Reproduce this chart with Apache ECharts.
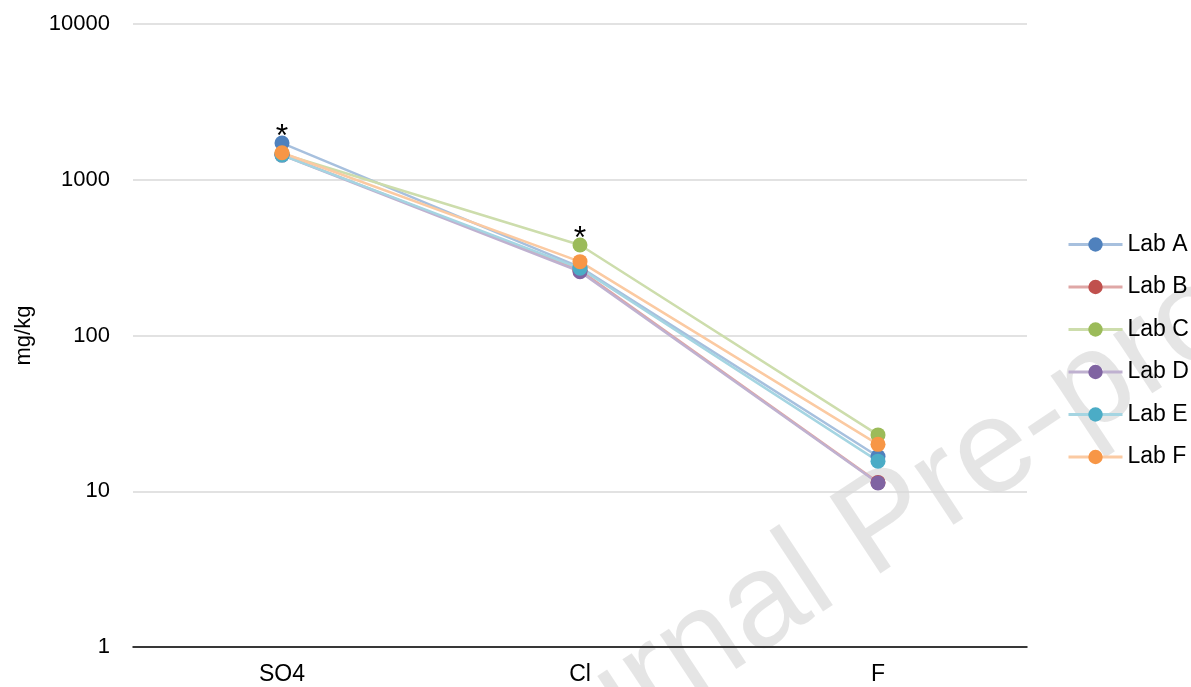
<!DOCTYPE html>
<html>
<head>
<meta charset="utf-8">
<script src="https://cdn.jsdelivr.net/npm/echarts@6/dist/echarts.min.js"></script>
<style>html,body{margin:0;padding:0;background:#fff}#c{width:1191px;height:687px}</style>
</head>
<body>
<div id="c"></div>
<script>
var categories = ['SO4', 'Cl', 'F'];
var labNames = ['Lab A', 'Lab B', 'Lab C', 'Lab D', 'Lab E', 'Lab F'];
var labA = [1720, 275, 16.7];
var labB = [1450, 262, 11.4];
var labC = [1470, 381, 23];
var labD = [1440, 257, 11.3];
var labE = [1440, 270, 15.6];
var labF = [1490, 298, 20];
var yTicks = [1, 10, 100, 1000, 10000];
var asterisks = [[0, 0], [2, 1]]; // [series index, category index]
var colors = ['#4F81BD', '#C0504D', '#9BBB59', '#8064A2', '#4BACC6', '#F79646'];
var lineColors = ['#A7C0DE', '#DFA7A6', '#CDDDAC', '#BFB1D0', '#A5D5E2', '#FBCAA2'];
var allData = [labA, labB, labC, labD, labE, labF];

var chart = echarts.init(document.getElementById('c'));
var series = allData.map(function (arr, si) {
  return {
    name: labNames[si],
    type: 'line',
    data: arr.map(function (v, ci) {
      var star = asterisks.some(function (a) { return a[0] === si && a[1] === ci; });
      if (star) {
        return { value: v, label: { show: true, formatter: '*', position: 'top', distance: 0, offset: [0, 18], fontSize: 32, color: '#000', fontFamily: 'Liberation Sans' } };
      }
      return v;
    }),
    symbol: 'circle',
    symbolSize: 15,
    itemStyle: { color: colors[si] },
    lineStyle: { color: lineColors[si], width: 2.5 },
    emphasis: { disabled: true },
    z: 3
  };
});

chart.setOption({
  animation: false,
  textStyle: { fontFamily: 'Liberation Sans' },
  grid: { left: 133, right: 164, top: 24, bottom: 40 },
  graphic: [{
    type: 'text',
    z: -10,
    x: 885, y: 526,
    rotation: 0.585,
    style: {
      text: 'Journal Pre-proof',
      font: '134px "Liberation Sans"',
      fill: 'rgba(0,0,0,0.10)',
      textAlign: 'center',
      textVerticalAlign: 'middle'
    }
  }],
  legend: {
    orient: 'vertical',
    left: 1067,
    top: 233,
    padding: 0,
    itemWidth: 54,
    itemHeight: 18,
    itemGap: 19.5,
    lineStyle: { width: 3 },
    textStyle: { fontSize: 23, color: '#000', fontFamily: 'Liberation Sans' },
    data: labNames
  },
  xAxis: {
    type: 'category',
    data: categories,
    boundaryGap: true,
    axisLine: { lineStyle: { color: '#000', width: 1.5 } },
    axisTick: { show: false },
    axisLabel: { fontSize: 23, color: '#000', margin: 16 }
  },
  yAxis: {
    type: 'log',
    logBase: 10,
    min: yTicks[0],
    max: yTicks[yTicks.length - 1],
    name: 'mg/kg',
    nameLocation: 'middle',
    nameGap: 98,
    nameTextStyle: { fontSize: 22, color: '#000' },
    axisLine: { show: false },
    axisTick: { show: false },
    axisLabel: { fontSize: 22, color: '#000', margin: 23, formatter: function (v) { return String(v); } },
    splitLine: { lineStyle: { color: '#D9D9D9', width: 1.5 } }
  },
  series: series
});
</script>
</body>
</html>
